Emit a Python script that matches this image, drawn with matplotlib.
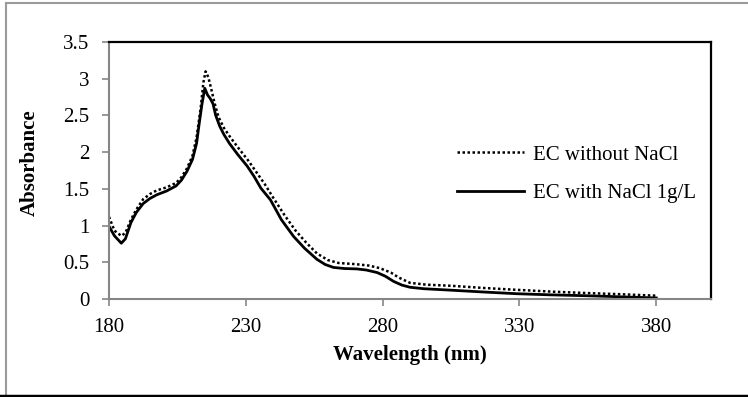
import matplotlib
matplotlib.use('Agg')
import matplotlib.pyplot as plt
from matplotlib.lines import Line2D

# wavelength (nm) and absorbance
wl_no = [180, 182, 184.5, 186, 188, 190, 192.5, 195, 197.5, 201, 204.5, 206.5, 208.5, 210.5,
         212, 213.5, 214.5, 215.3, 216.3, 217.3, 218.5, 220, 222, 224, 227, 231, 234, 237,
         240, 244, 248, 252, 256, 260, 264, 270, 275, 279, 283, 286, 290, 296, 305, 317,
         329, 342, 354, 367, 380]
abs_no = [1.12, 0.93, 0.86, 0.9, 1.08, 1.22, 1.36, 1.43, 1.48, 1.52, 1.58, 1.66, 1.78, 1.95,
          2.2, 2.6, 2.95, 3.10, 3.02, 2.87, 2.68, 2.48, 2.33, 2.22, 2.07, 1.88, 1.72, 1.56,
          1.38, 1.15, 0.94, 0.77, 0.62, 0.53, 0.49, 0.475, 0.455, 0.42, 0.36, 0.29, 0.22, 0.195,
          0.18, 0.15, 0.125, 0.1, 0.082, 0.065, 0.045]

wl_nacl = [180, 182, 184.5, 186, 188, 190, 192.5, 195, 197.5, 201, 204.5, 206.5, 208.5, 210.5,
           212, 213, 214, 215, 216, 217, 218, 219, 220.5, 222, 224, 227, 230.5, 233, 235.5,
           239, 243, 247.5, 251.5, 256, 259, 262, 266, 270.5, 274, 278, 281, 284, 287, 290,
           295, 305, 317, 329, 341, 354, 367, 380]
abs_nacl = [0.99, 0.86, 0.76, 0.82, 1.04, 1.18, 1.30, 1.37, 1.42, 1.47, 1.54, 1.62, 1.74, 1.90,
            2.12, 2.40, 2.66, 2.87, 2.78, 2.73, 2.66, 2.50, 2.35, 2.24, 2.12, 1.97, 1.81, 1.67, 1.51,
            1.35, 1.08, 0.85, 0.69, 0.54, 0.47, 0.43, 0.415, 0.41, 0.395, 0.36, 0.31, 0.24, 0.19, 0.16,
            0.14, 0.12, 0.095, 0.072, 0.057, 0.045, 0.03, 0.014]

xticks = [180, 230, 280, 330, 380]
yticks = [0, 0.5, 1, 1.5, 2, 2.5, 3, 3.5]
ytick_labels = ['0', '0.5', '1', '1.5', '2', '2.5', '3', '3.5']

plt.rcParams['font.family'] = ['Liberation Serif', 'DejaVu Serif']
fs = 15
gray = '#868686'

fig = plt.figure(figsize=(7.48, 3.97), dpi=100)
ax = fig.add_axes([109/748., 1-299/397., 602/748., 257/397.])

ax.plot(wl_no, abs_no, color='black', lw=1.8, linestyle=(0, (1, 1)), label='EC without NaCl')
ax.plot(wl_nacl, abs_nacl, color='black', lw=2.0, label='EC with NaCl 1g/L')

ax.set_xlim(180, 400)
ax.set_ylim(0, 3.5)
ax.set_xticks(xticks)
ax.set_yticks(yticks)
ax.set_yticklabels(ytick_labels)
ax.tick_params(axis='both', direction='out', length=5, width=1.2, color=gray,
               labelsize=fs, pad=9)

for s in ['left', 'bottom']:
    ax.spines[s].set_color(gray)
    ax.spines[s].set_linewidth(1.5)
for s in ['top', 'right']:
    ax.spines[s].set_color('black')
    ax.spines[s].set_linewidth(1.6)

ax.set_xlabel('Wavelength (nm)', fontsize=fs, fontweight='bold')
ax.xaxis.label.set_va('center')
ax.xaxis.set_label_coords(0.5, (299-355)/257.)
ax.set_ylabel('Absorbance', fontsize=fs, fontweight='bold')
ax.yaxis.label.set_va('center')
ax.yaxis.set_label_coords((30-109)/602., (299-163)/257.)

ax.legend(loc='center left', bbox_to_anchor=(457/748., 1-174/397.),
          bbox_transform=fig.transFigure, frameon=False, fontsize=fs,
          handlelength=3.2, handletextpad=0.45, labelspacing=0.9,
          borderpad=0, borderaxespad=0)

# outer chart frame
fig.add_artist(Line2D([5.5/748, 5.5/748], [1-3/397., 1-395/397.], transform=fig.transFigure,
                      color='#9a9a9a', lw=1.5))
fig.add_artist(Line2D([5.5/748, 1.0], [1-3/397., 1-3/397.], transform=fig.transFigure,
                      color='#9a9a9a', lw=1.5))
fig.add_artist(Line2D([0, 1.0], [1-395.5/397., 1-395.5/397.], transform=fig.transFigure,
                      color='black', lw=2.5))

plt.savefig('out.png', dpi=100)
